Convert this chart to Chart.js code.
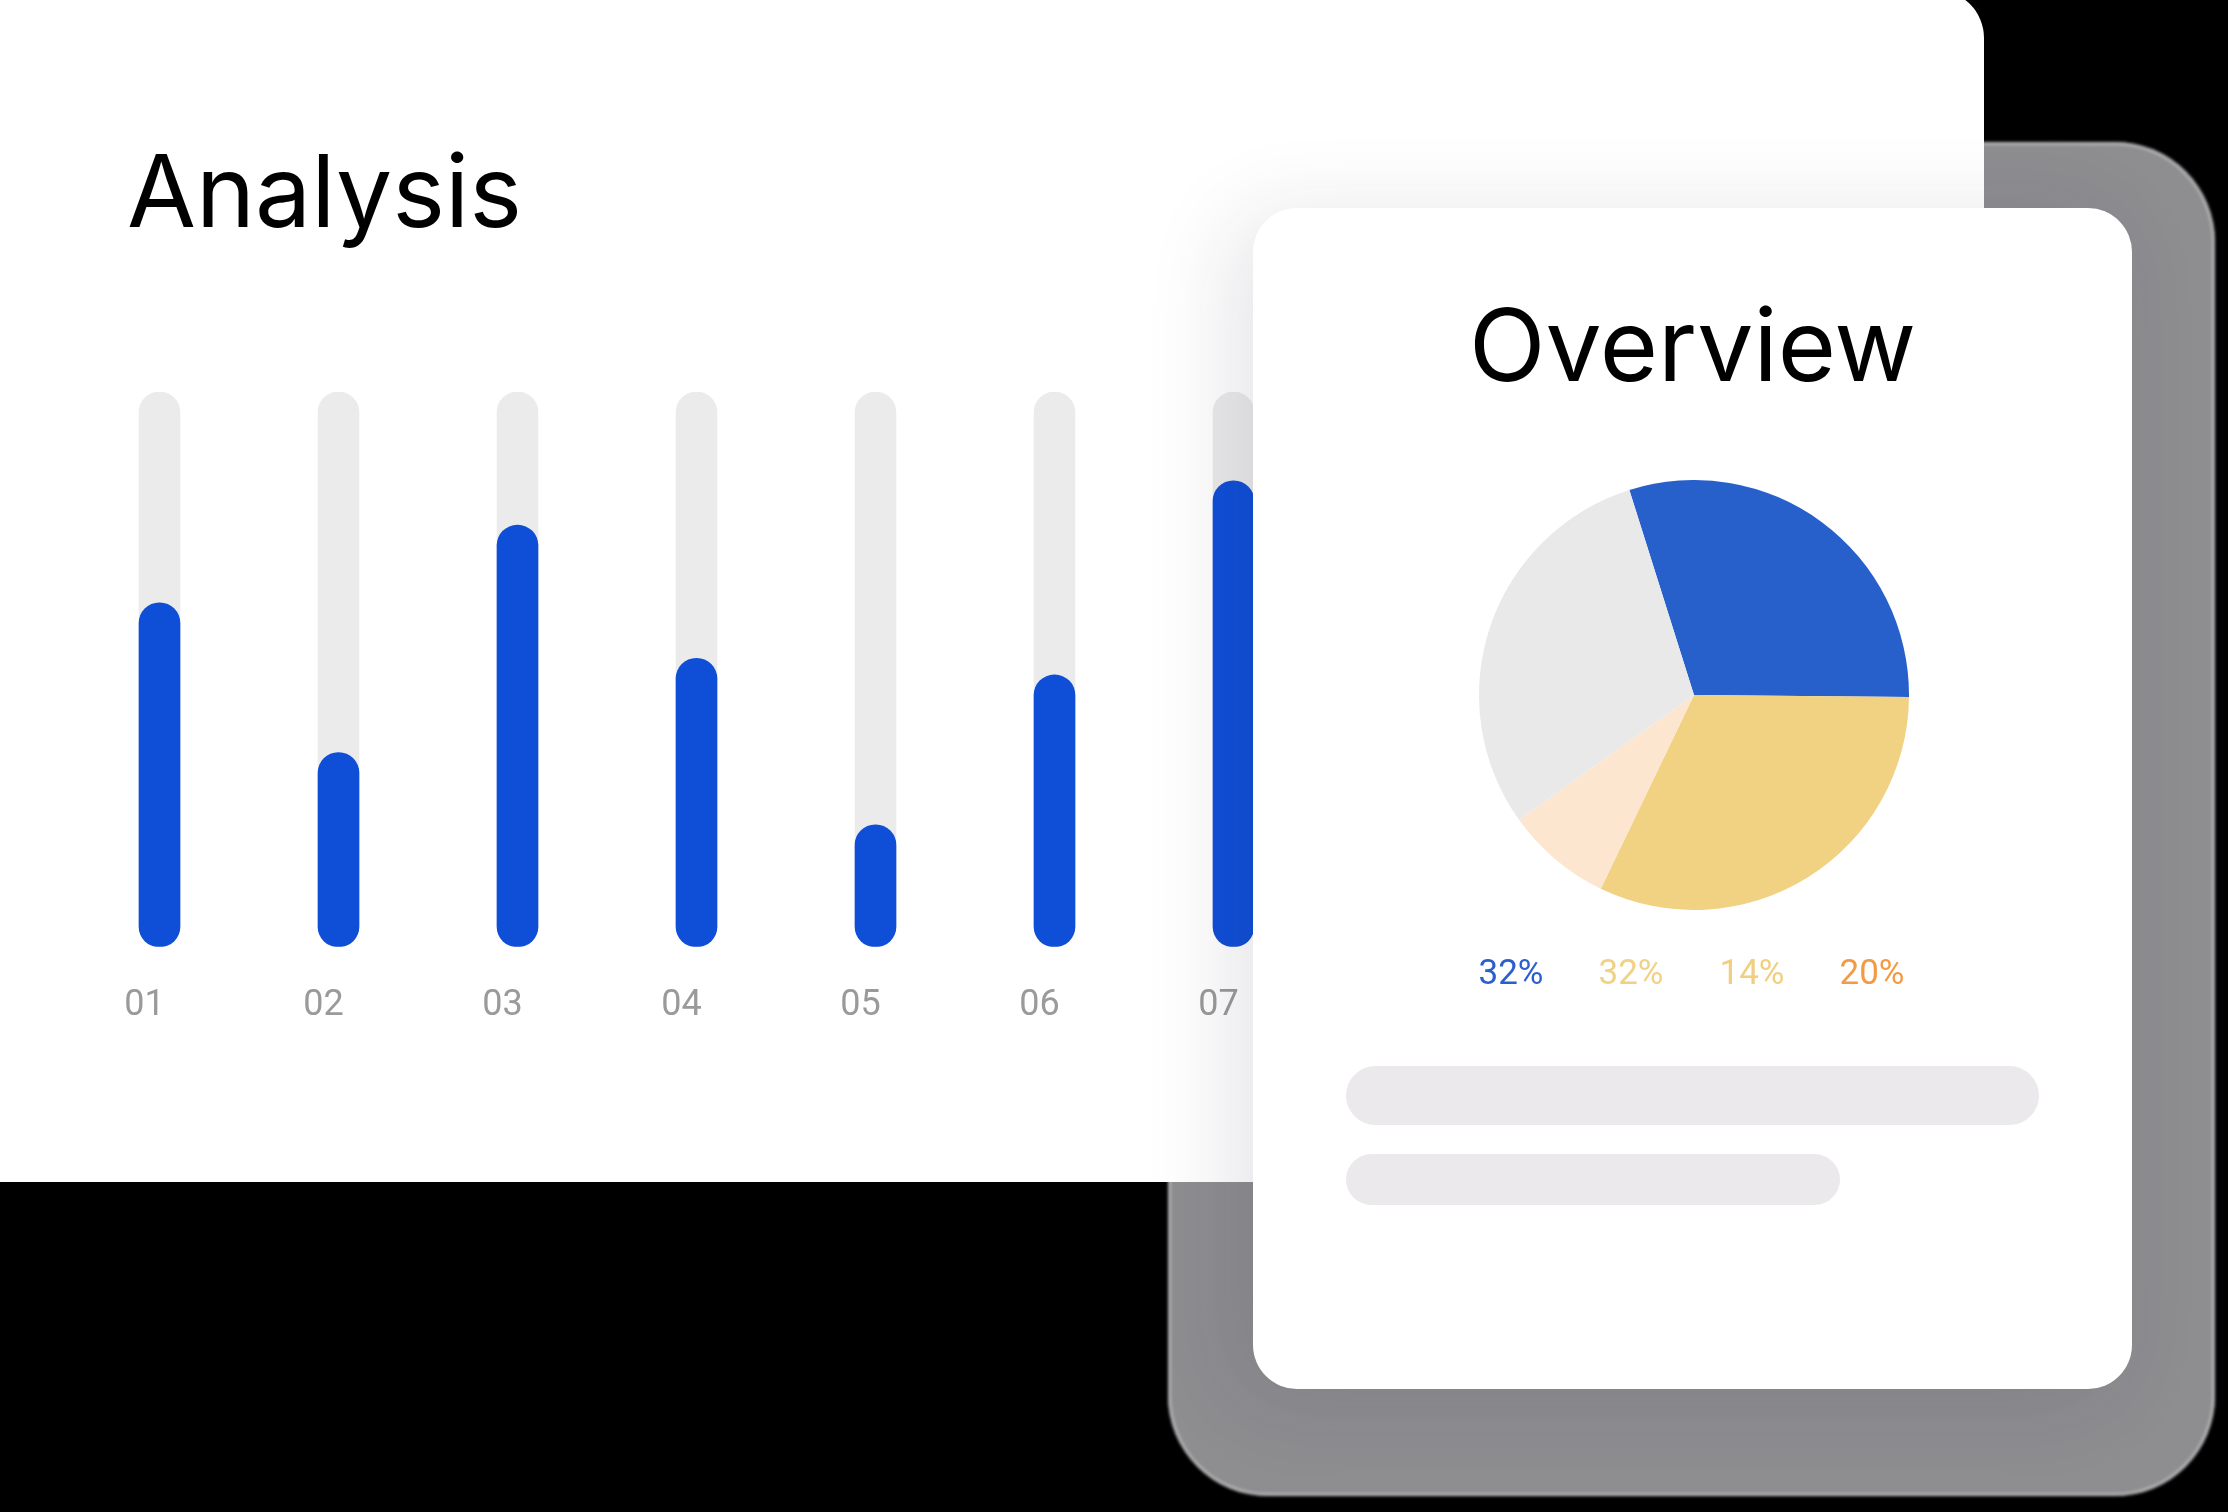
<!DOCTYPE html>
<html>
<head>
<meta charset="utf-8">
<script src="https://cdn.jsdelivr.net/npm/chart.js@4/dist/chart.umd.min.js"></script>
<style>
  html, body { margin: 0; padding: 0; }
  body { width: 2228px; height: 1512px; background: #000; position: relative; overflow: hidden; font-family: Inter, "Noto Sans", sans-serif; }
  .shadow { position: absolute; left: 1168px; top: 142px; width: 1047px; height: 1354px; border-radius: 100px; background: #8e8e91; box-shadow: inset 0 0 0 3px #b4b4b6; filter: blur(1.5px); }
  .card-main { position: absolute; left: -60px; top: -10px; width: 2044px; height: 1192px; border-radius: 48px; background: #fff; }
  .card-over { position: absolute; left: 1253px; top: 208px; width: 879px; height: 1181px; border-radius: 44px; background: #fff; box-shadow: -20px 10px 90px rgba(30,30,60,0.12); }
  .title { position: absolute; font-family: Inter, sans-serif; font-size: 100px; line-height: 1; color: #000; font-weight: 400; white-space: nowrap; }
  #t1 { left: 127px; top: 141px; }
  #t2 { left: 1253px; width: 879px; text-align: center; top: 295px; }
  #barWrap { position: absolute; left: 70px; top: 392px; width: 1253px; height: 674px; }
  #pieWrap { position: absolute; left: 1479px; top: 480px; width: 430px; height: 430px; }
  .pct { position: absolute; top: 952px; font-family: Roboto, sans-serif; font-size: 35px; line-height: 42px; width: 120px; text-align: center; }
  .pill { position: absolute; background: #ebe9ec; }
</style>
</head>
<body>
<div class="shadow"></div>
<div class="card-main"></div>
<div class="title" id="t1">Analysis</div>
<div id="barWrap"><canvas id="bars"></canvas></div>
<div class="card-over"></div>
<div class="title" id="t2">Overview</div>
<div id="pieWrap"><canvas id="pie"></canvas></div>
<div id="pcts"></div>
<div class="pill" style="left:1346px;top:1066px;width:693px;height:59px;border-radius:30px;"></div>
<div class="pill" style="left:1346px;top:1154px;width:494px;height:51px;border-radius:26px;"></div>
<script>
// ---- data ----
const barCategories = ['01', '02', '03', '04', '05', '06', '07'];
const barValues = [62, 35, 76, 52, 22, 49, 84];
const barMax = 100;
const barTrack = [100, 100, 100, 100, 100, 100, 100];

const pieCategories = ['Blue', 'Yellow', 'Peach', 'Gray'];
const pieValues = [30, 32, 8, 30];
const pieColors = ['#2860cb', '#f1d282', '#fde6cf', '#e9e9ea'];

const pctLabels = ['32%', '32%', '14%', '20%'];
const pctColors = ['#2b5fcf', '#f1d184', '#f0cf80', '#f39a45'];

// ---- percentage labels ----
const pctCenters = [1511, 1631, 1752, 1872];
const pctHost = document.getElementById('pcts');
pctLabels.forEach((t, i) => {
  const d = document.createElement('div');
  d.className = 'pct';
  d.textContent = t;
  d.style.color = pctColors[i];
  d.style.left = (pctCenters[i] - 60) + 'px';
  pctHost.appendChild(d);
});

// ---- bar chart ----
new Chart(document.getElementById('bars'), {
  type: 'bar',
  data: {
    labels: barCategories,
    datasets: [
      { data: barValues, backgroundColor: '#0f4fd8', barThickness: 41, borderRadius: 21, borderSkipped: false, grouped: false },
      { data: barTrack, backgroundColor: '#ebebeb', barThickness: 41, borderRadius: 21, borderSkipped: false, grouped: false }
    ]
  },
  options: {
    responsive: true,
    maintainAspectRatio: false,
    animation: false,
    layout: { padding: 0 },
    plugins: { legend: { display: false }, tooltip: { enabled: false } },
    scales: {
      x: {
        grid: { display: false, drawTicks: false },
        border: { display: false },
        ticks: { color: '#9a9a9a', font: { family: 'Roboto', size: 36 }, padding: 38, labelOffset: -15 }
      },
      y: { display: false, min: 0, max: barMax }
    }
  }
});

// ---- pie chart ----
new Chart(document.getElementById('pie'), {
  type: 'pie',
  data: {
    labels: pieCategories,
    datasets: [{ data: pieValues, backgroundColor: pieColors, borderWidth: 0 }]
  },
  options: {
    responsive: true,
    maintainAspectRatio: false,
    animation: false,
    rotation: -17.5,
    layout: { padding: 0 },
    plugins: { legend: { display: false }, tooltip: { enabled: false } }
  }
});
</script>
</body>
</html>
